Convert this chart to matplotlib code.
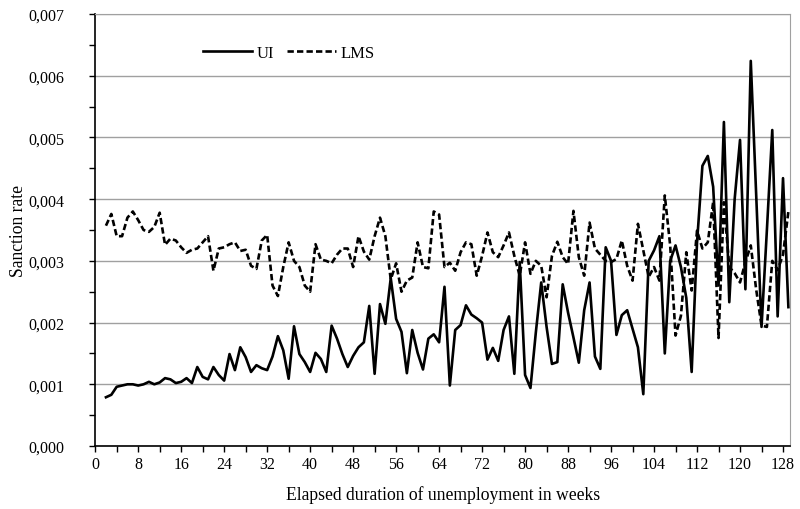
import numpy as np
import matplotlib
matplotlib.use("Agg")
import matplotlib.pyplot as plt
from matplotlib.ticker import MultipleLocator, FuncFormatter

plt.rcParams["font.family"] = ["Liberation Serif", "DejaVu Serif"]

# weeks of elapsed unemployment
weeks = list(range(2, 130))

ui = [0.00079, 0.00083, 0.00096, 0.00098, 0.00100, 0.00100, 0.00098, 0.00100,
      0.00104, 0.00100, 0.00103, 0.00110, 0.00108, 0.00102, 0.00104, 0.00110,
      0.00102, 0.00128, 0.00112, 0.00108, 0.00128, 0.00115, 0.00106, 0.00149,
      0.00123, 0.00160, 0.00144, 0.00120, 0.00131, 0.00126, 0.00123, 0.00145,
      0.00178, 0.00155, 0.00109, 0.00194, 0.00149, 0.00136, 0.00120, 0.00151,
      0.00141, 0.00120, 0.00195, 0.00174, 0.00149, 0.00128, 0.00146, 0.00160,
      0.00168, 0.00227, 0.00117, 0.00230, 0.00198, 0.00272, 0.00206, 0.00185,
      0.00118, 0.00188, 0.00151, 0.00124, 0.00174, 0.00181, 0.00168, 0.00258,
      0.00098, 0.00188, 0.00196, 0.00228, 0.00213, 0.00207, 0.00200, 0.00140,
      0.00159, 0.00138, 0.00188, 0.00210, 0.00117, 0.00298, 0.00115, 0.00094,
      0.00184, 0.00265, 0.00193, 0.00133, 0.00136, 0.00262, 0.00216, 0.00176,
      0.00135, 0.00220, 0.00265, 0.00145, 0.00125, 0.00322, 0.00300, 0.00180,
      0.00212, 0.00220, 0.00190, 0.00160, 0.00084, 0.00300, 0.00317, 0.00340,
      0.00150, 0.00300, 0.00325, 0.00290, 0.00240, 0.00120, 0.00330, 0.00454,
      0.00470, 0.00420, 0.00260, 0.00525, 0.00233, 0.00400, 0.00496, 0.00254,
      0.00624, 0.00410, 0.00193, 0.00350, 0.00512, 0.00210, 0.00434, 0.00225]

lms = [0.00357, 0.00376, 0.00340, 0.00340, 0.00370, 0.00380, 0.00366, 0.00350,
       0.00347, 0.00355, 0.00378, 0.00326, 0.00336, 0.00333, 0.00322, 0.00313,
       0.00318, 0.00320, 0.00330, 0.00340, 0.00284, 0.00320, 0.00322, 0.00327,
       0.00330, 0.00316, 0.00318, 0.00292, 0.00287, 0.00333, 0.00342, 0.00260,
       0.00243, 0.00290, 0.00330, 0.00300, 0.00290, 0.00260, 0.00250, 0.00327,
       0.00302, 0.00300, 0.00296, 0.00310, 0.00320, 0.00320, 0.00290, 0.00340,
       0.00315, 0.00302, 0.00340, 0.00370, 0.00340, 0.00270, 0.00296, 0.00250,
       0.00268, 0.00273, 0.00330, 0.00290, 0.00288, 0.00380, 0.00375, 0.00290,
       0.00297, 0.00284, 0.00314, 0.00330, 0.00327, 0.00276, 0.00308, 0.00346,
       0.00314, 0.00306, 0.00325, 0.00346, 0.00308, 0.00276, 0.00330, 0.00279,
       0.00300, 0.00292, 0.00241, 0.00308, 0.00331, 0.00306, 0.00295, 0.00381,
       0.00306, 0.00276, 0.00362, 0.00320, 0.00310, 0.00300, 0.00298, 0.00303,
       0.00333, 0.00292, 0.00268, 0.00360, 0.00317, 0.00274, 0.00290, 0.00268,
       0.00406, 0.00325, 0.00179, 0.00211, 0.00314, 0.00252, 0.00349, 0.00320,
       0.00330, 0.00395, 0.00175, 0.00395, 0.00290, 0.00280, 0.00265, 0.00298,
       0.00325, 0.00254, 0.00195, 0.00193, 0.00300, 0.00285, 0.00310, 0.00380]

fig = plt.figure(figsize=(8, 5.1), dpi=100)
ax = fig.add_axes([0.119, 0.1235, 0.8685, 0.8471])

ax.plot(weeks, ui, color="black", lw=1.9, label="UI")
ax.plot(weeks, lms, color="black", lw=1.9, dashes=(2.4, 1.2), label="LMS")

ax.set_xlim(0, 129.3)
ax.set_ylim(0, 0.007)
ax.xaxis.set_major_locator(MultipleLocator(8))
ax.xaxis.set_minor_locator(MultipleLocator(4))
ax.yaxis.set_major_locator(MultipleLocator(0.001))
ax.yaxis.set_minor_locator(MultipleLocator(0.0005))
ax.yaxis.set_major_formatter(FuncFormatter(lambda v, p: f"{v:.3f}".replace(".", ",")))

ax.grid(axis="y", which="major", color="#a0a0a0", lw=1.0)
ax.set_axisbelow(True)
ax.tick_params(which="both", direction="out", length=4, width=1, labelsize=11.5)
ax.tick_params(axis="y", which="major", pad=18)
for s in ["top", "right"]:
    ax.spines[s].set_color("#a0a0a0")
for s in ["left", "bottom"]:
    ax.spines[s].set_linewidth(1.2)

ax.set_xlabel("Elapsed duration of unemployment in weeks", fontsize=12.7, labelpad=9)
ax.set_ylabel("Sanction rate", fontsize=12.7, labelpad=1.5)

ax.legend(loc="center left", bbox_to_anchor=(0.134, 0.909), ncol=2, frameon=False,
          fontsize=12, handlelength=2.9, handletextpad=0.3, columnspacing=0.8)

fig.savefig("out.png", dpi=100)
